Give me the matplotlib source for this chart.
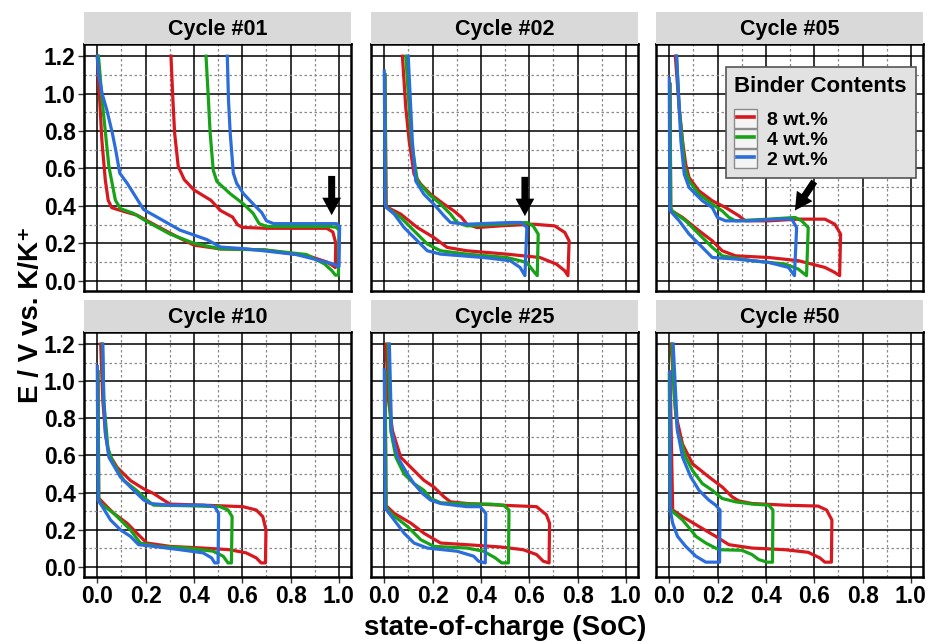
import matplotlib
matplotlib.use("Agg")
import matplotlib.pyplot as plt
from matplotlib.ticker import MultipleLocator
from matplotlib.legend_handler import HandlerLine2D
from matplotlib.patches import Rectangle

plt.rcParams['font.family'] = ['Liberation Sans', 'DejaVu Sans']
plt.rcParams['font.weight'] = 'bold'

# state-of-charge / potential curves
# (discharge from SoC 0 down to the cut-off, then charge drawn back to 1.2 V)
c01_8_soc = [0.0, 0.019, 0.033, 0.045, 0.06, 0.11, 0.165, 0.25, 0.33, 0.40, 0.51, 0.69, 0.88, 0.95, 0.975, 0.985,
             0.987, 0.975, 0.95, 0.70, 0.60, 0.58, 0.56, 0.51, 0.47, 0.40, 0.36, 0.335, 0.32, 0.313, 0.305]
c01_8_E = [1.2, 0.75, 0.54, 0.43, 0.39, 0.37, 0.35, 0.29, 0.235, 0.19, 0.17, 0.165, 0.13, 0.10, 0.08, 0.07,
           0.20, 0.26, 0.28, 0.28, 0.285, 0.30, 0.34, 0.375, 0.43, 0.485, 0.54, 0.61, 0.79, 0.965, 1.2]
c01_4_soc = [0.005, 0.02, 0.048, 0.075, 0.096, 0.15, 0.2, 0.30, 0.40, 0.51, 0.69, 0.865, 0.94, 0.97, 0.985, 0.998,
             1.0, 0.99, 0.96, 0.70, 0.67, 0.645, 0.605, 0.55, 0.495, 0.48, 0.467, 0.46, 0.45]
c01_4_E = [1.2, 0.965, 0.61, 0.43, 0.385, 0.36, 0.32, 0.25, 0.20, 0.17, 0.165, 0.14, 0.09, 0.055, 0.03, 0.03,
           0.27, 0.285, 0.29, 0.29, 0.305, 0.36, 0.41, 0.465, 0.53, 0.59, 0.79, 0.965, 1.2]
c01_2_soc = [0.0, 0.005, 0.02, 0.04, 0.062, 0.076, 0.093, 0.124, 0.158, 0.192, 0.247, 0.343, 0.453, 0.51, 0.618,
             0.824, 0.975, 1.0, 1.003, 0.99, 0.96, 0.73, 0.70, 0.68, 0.645, 0.605, 0.577, 0.563, 0.55, 0.543, 0.538]
c01_2_E = [1.2, 1.11, 1.0, 0.91, 0.79, 0.70, 0.575, 0.52, 0.45, 0.38, 0.34, 0.27, 0.22, 0.18, 0.17,
           0.14, 0.09, 0.075, 0.29, 0.305, 0.305, 0.305, 0.32, 0.365, 0.41, 0.465, 0.52, 0.575, 0.79, 0.965, 1.2]

c02_8_soc = [0.003, 0.008, 0.016, 0.068, 0.137, 0.205, 0.26, 0.342, 0.507, 0.644, 0.712, 0.747, 0.76, 0.765, 0.747,
             0.705, 0.616, 0.479, 0.384, 0.342, 0.32, 0.288, 0.247, 0.192, 0.151, 0.123, 0.103, 0.089, 0.075]
c02_8_E = [1.1, 0.40, 0.39, 0.356, 0.284, 0.231, 0.178, 0.16, 0.142, 0.124, 0.089, 0.053, 0.027, 0.213, 0.258,
           0.293, 0.302, 0.293, 0.284, 0.302, 0.338, 0.373, 0.409, 0.462, 0.516, 0.569, 0.747, 0.924, 1.2]
c02_4_soc = [0.003, 0.006, 0.011, 0.068, 0.123, 0.178, 0.233, 0.342, 0.507, 0.589, 0.616, 0.633, 0.637, 0.616,
             0.589, 0.479, 0.342, 0.301, 0.274, 0.233, 0.185, 0.137, 0.112, 0.089]
c02_4_E = [1.1, 0.40, 0.39, 0.338, 0.267, 0.196, 0.16, 0.142, 0.124, 0.098, 0.053, 0.027, 0.249, 0.293,
           0.311, 0.302, 0.293, 0.311, 0.356, 0.409, 0.462, 0.533, 0.747, 1.2]
c02_2_soc = [0.0, 0.004, 0.01, 0.041, 0.082, 0.137, 0.178, 0.233, 0.411, 0.521, 0.562, 0.582, 0.59, 0.568, 0.521,
             0.342, 0.274, 0.247, 0.205, 0.164, 0.13, 0.116, 0.099]
c02_2_E = [1.12, 0.40, 0.39, 0.356, 0.284, 0.213, 0.16, 0.142, 0.124, 0.107, 0.071, 0.027, 0.284, 0.311, 0.311,
           0.302, 0.311, 0.347, 0.409, 0.462, 0.533, 0.747, 1.2]

c05_8_soc = [0.003, 0.006, 0.011, 0.055, 0.123, 0.178, 0.219, 0.274, 0.411, 0.534, 0.644, 0.685, 0.705, 0.709,
             0.685, 0.644, 0.534, 0.411, 0.315, 0.288, 0.233, 0.178, 0.123, 0.082, 0.068, 0.055, 0.041, 0.025]
c05_8_E = [1.05, 0.39, 0.373, 0.338, 0.267, 0.213, 0.16, 0.133, 0.124, 0.107, 0.071, 0.044, 0.027, 0.249,
           0.302, 0.329, 0.329, 0.32, 0.32, 0.347, 0.391, 0.427, 0.48, 0.551, 0.622, 0.747, 0.924, 1.2]
c05_4_soc = [0.003, 0.006, 0.011, 0.068, 0.123, 0.178, 0.219, 0.342, 0.479, 0.534, 0.568, 0.575, 0.548, 0.521,
             0.411, 0.274, 0.247, 0.219, 0.178, 0.123, 0.082, 0.064, 0.041, 0.03]
c05_4_E = [1.05, 0.39, 0.373, 0.32, 0.249, 0.178, 0.133, 0.107, 0.089, 0.062, 0.027, 0.284, 0.32, 0.338,
           0.329, 0.32, 0.338, 0.373, 0.409, 0.462, 0.533, 0.604, 0.924, 1.2]
c05_2_soc = [0.0, 0.002, 0.004, 0.041, 0.082, 0.137, 0.178, 0.274, 0.411, 0.493, 0.518, 0.527, 0.507, 0.452,
             0.315, 0.233, 0.199, 0.178, 0.137, 0.082, 0.062, 0.048, 0.03]
c05_2_E = [1.08, 0.39, 0.373, 0.32, 0.249, 0.178, 0.124, 0.116, 0.098, 0.071, 0.027, 0.284, 0.329, 0.329,
           0.32, 0.32, 0.338, 0.391, 0.427, 0.498, 0.569, 0.747, 1.2]

c10_8_soc = [0.003, 0.006, 0.027, 0.068, 0.123, 0.164, 0.205, 0.301, 0.438, 0.548, 0.616, 0.658, 0.678, 0.696,
             0.698, 0.685, 0.658, 0.603, 0.438, 0.301, 0.274, 0.233, 0.192, 0.137, 0.082, 0.048, 0.034, 0.023, 0.014]
c10_8_E = [1.05, 0.37, 0.341, 0.288, 0.235, 0.181, 0.128, 0.11, 0.101, 0.092, 0.075, 0.048, 0.021, 0.021,
           0.199, 0.27, 0.306, 0.324, 0.332, 0.338, 0.36, 0.395, 0.42, 0.465, 0.536, 0.608, 0.715, 0.892, 1.2]
c10_4_soc = [0.003, 0.006, 0.014, 0.068, 0.137, 0.178, 0.247, 0.37, 0.479, 0.521, 0.541, 0.555, 0.558, 0.541,
             0.507, 0.37, 0.233, 0.205, 0.164, 0.11, 0.062, 0.044, 0.027, 0.021]
c10_4_E = [1.05, 0.37, 0.341, 0.288, 0.199, 0.128, 0.11, 0.101, 0.084, 0.057, 0.021, 0.021, 0.27, 0.306,
           0.324, 0.329, 0.332, 0.36, 0.41, 0.465, 0.57, 0.64, 0.89, 1.2]
c10_2_soc = [0.0, 0.003, 0.021, 0.055, 0.096, 0.137, 0.171, 0.233, 0.342, 0.438, 0.473, 0.486, 0.5, 0.502, 0.486,
             0.438, 0.301, 0.219, 0.192, 0.164, 0.137, 0.096, 0.048, 0.034, 0.027, 0.023]
c10_2_E = [1.08, 0.36, 0.324, 0.252, 0.199, 0.164, 0.119, 0.11, 0.092, 0.075, 0.048, 0.021, 0.021, 0.288, 0.324,
           0.332, 0.332, 0.341, 0.36, 0.395, 0.43, 0.483, 0.59, 0.715, 0.892, 1.2]

c25_8_soc = [0.003, 0.007, 0.041, 0.11, 0.164, 0.233, 0.342, 0.479, 0.575, 0.63, 0.658, 0.682, 0.684, 0.671, 0.63,
             0.479, 0.342, 0.274, 0.247, 0.205, 0.164, 0.123, 0.068, 0.034, 0.016, 0.007]
c25_8_E = [1.05, 0.33, 0.288, 0.235, 0.181, 0.128, 0.119, 0.107, 0.092, 0.066, 0.03, 0.021, 0.235, 0.28, 0.324,
           0.332, 0.341, 0.35, 0.377, 0.43, 0.466, 0.519, 0.59, 0.732, 0.91, 1.2]
c25_4_soc = [0.003, 0.008, 0.027, 0.096, 0.151, 0.205, 0.342, 0.411, 0.459, 0.486, 0.514, 0.516, 0.493, 0.438,
             0.342, 0.233, 0.192, 0.164, 0.123, 0.082, 0.048, 0.027, 0.016]
c25_4_E = [1.05, 0.32, 0.288, 0.217, 0.146, 0.11, 0.101, 0.084, 0.048, 0.021, 0.021, 0.306, 0.332, 0.338,
           0.338, 0.345, 0.368, 0.412, 0.448, 0.5, 0.59, 0.732, 1.2]
c25_2_soc = [0.0, 0.004, 0.041, 0.082, 0.123, 0.178, 0.301, 0.37, 0.39, 0.418, 0.42, 0.397, 0.342, 0.233, 0.192,
             0.158, 0.123, 0.096, 0.055, 0.03, 0.021]
c25_2_E = [1.06, 0.315, 0.252, 0.181, 0.128, 0.101, 0.084, 0.057, 0.03, 0.021, 0.288, 0.324, 0.324, 0.341, 0.359,
           0.395, 0.448, 0.5, 0.59, 0.732, 1.2]

c50_8_soc = [0.003, 0.014, 0.055, 0.123, 0.192, 0.247, 0.342, 0.479, 0.575, 0.623, 0.644, 0.671, 0.673, 0.651,
             0.616, 0.479, 0.342, 0.288, 0.26, 0.219, 0.164, 0.096, 0.055, 0.027, 0.007]
c50_8_E = [1.05, 0.306, 0.27, 0.217, 0.164, 0.119, 0.101, 0.092, 0.078, 0.048, 0.025, 0.025, 0.252, 0.306,
           0.327, 0.332, 0.341, 0.355, 0.377, 0.43, 0.484, 0.555, 0.66, 0.82, 1.2]
c50_4_soc = [0.0, 0.003, 0.014, 0.055, 0.089, 0.11, 0.151, 0.205, 0.301, 0.342, 0.37, 0.404, 0.427, 0.429, 0.411,
             0.342, 0.274, 0.219, 0.178, 0.137, 0.096, 0.068, 0.034, 0.021, 0.011]
c50_4_E = [1.04, 0.32, 0.297, 0.252, 0.199, 0.164, 0.128, 0.092, 0.089, 0.066, 0.039, 0.025, 0.025, 0.306, 0.332,
           0.338, 0.35, 0.368, 0.412, 0.448, 0.519, 0.59, 0.732, 0.91, 1.2]
c50_2_soc = [0.003, 0.004, 0.014, 0.034, 0.068, 0.11, 0.151, 0.208, 0.21, 0.192, 0.164, 0.123, 0.089, 0.055,
             0.034, 0.016]
c50_2_E = [1.05, 0.306, 0.235, 0.164, 0.11, 0.057, 0.025, 0.025, 0.306, 0.332, 0.359, 0.412, 0.484, 0.59,
           0.732, 1.2]

cycles = ['Cycle #01', 'Cycle #02', 'Cycle #05', 'Cycle #10', 'Cycle #25', 'Cycle #50']
binders = ['8 wt.%', '4 wt.%', '2 wt.%']
colors = ['#d7191f', '#17a317', '#2a6ddb']
curves = [
    [(c01_8_soc, c01_8_E), (c01_4_soc, c01_4_E), (c01_2_soc, c01_2_E)],
    [(c02_8_soc, c02_8_E), (c02_4_soc, c02_4_E), (c02_2_soc, c02_2_E)],
    [(c05_8_soc, c05_8_E), (c05_4_soc, c05_4_E), (c05_2_soc, c05_2_E)],
    [(c10_8_soc, c10_8_E), (c10_4_soc, c10_4_E), (c10_2_soc, c10_2_E)],
    [(c25_8_soc, c25_8_E), (c25_4_soc, c25_4_E), (c25_2_soc, c25_2_E)],
    [(c50_8_soc, c50_8_E), (c50_4_soc, c50_4_E), (c50_2_soc, c50_2_E)],
]
# arrows: panel index, tail, tip (data units)
arrows = [(0, (0.97, 0.56), (0.97, 0.35)),
          (1, (0.582, 0.555), (0.582, 0.345)),
          (2, (0.60, 0.53), (0.52, 0.375))]


class BoxedLine(HandlerLine2D):
    # legend key drawn inside a small grey box, like ggplot keys
    def create_artists(self, legend, orig_handle, xdescent, ydescent, width, height, fontsize, trans):
        box = Rectangle((-xdescent, -ydescent), width, height, facecolor='#f4f4f4',
                        edgecolor='#8c8c8c', lw=1.0, transform=trans)
        m = width * 0.14
        arts = super().create_artists(legend, orig_handle, xdescent - m, ydescent,
                                      width - 2 * m, height, fontsize, trans)
        for a in arts:
            a.set_linewidth(2.6)
        return [box] + arts


W, H = 928, 642
fig = plt.figure(figsize=(W / 100, H / 100), dpi=100)
lefts = [84, 371, 656]
tops = [44, 332]
heights = [247, 245]
pw = 267
strip_h = 32

axes = []
for i, name in enumerate(cycles):
    r, c = divmod(i, 3)
    l = lefts[c] / W
    b = 1 - (tops[r] + heights[r]) / H
    ax = fig.add_axes([l, b, pw / W, heights[r] / H])
    axes.append(ax)

    st = fig.add_axes([l, 1 - tops[r] / H, pw / W, strip_h / H])
    st.set_facecolor('#d9d9d9')
    st.set_xticks([])
    st.set_yticks([])
    for s in st.spines.values():
        s.set_visible(False)
    st.text(0.5, 0.45, name, ha='center', va='center', fontsize=15.5, fontweight='bold')

    for (x, y), col, lab in zip(curves[i], colors, binders):
        ax.plot(x, y, color=col, lw=2.3, label=lab, solid_joinstyle='round')

    ax.set_xlim(-0.055, 1.05)
    ax.set_ylim(-0.055, 1.265)
    ax.xaxis.set_major_locator(MultipleLocator(0.2))
    ax.xaxis.set_minor_locator(MultipleLocator(0.1))
    ax.yaxis.set_major_locator(MultipleLocator(0.2))
    ax.yaxis.set_minor_locator(MultipleLocator(0.1))
    ax.grid(which='major', color='black', lw=1.1, ls='-')
    ax.grid(which='minor', color='#8a8a8a', lw=0.9, ls=(0, (2, 2)))
    ax.set_axisbelow(True)
    ax.xaxis.set_major_formatter(plt.FormatStrFormatter('%.1f'))
    ax.yaxis.set_major_formatter(plt.FormatStrFormatter('%.1f'))
    ax.tick_params(which='minor', length=0)
    ax.tick_params(which='major', direction='out', length=4, width=1, color='#333333',
                   labelsize=16.5, pad=2,
                   left=(c == 0), labelleft=(c == 0),
                   bottom=(r == 1), labelbottom=(r == 1))
    for lbl in ax.get_xticklabels() + ax.get_yticklabels():
        lbl.set_fontweight('bold')
    for s in ax.spines.values():
        s.set_linewidth(1.8)
        s.set_color('black')

for idx, tail, tip in arrows:
    axes[idx].annotate('', xy=tip, xytext=tail,
                       arrowprops=dict(arrowstyle='simple,head_length=0.7,head_width=0.75,tail_width=0.28',
                                       facecolor='black', edgecolor='none', shrinkA=0, shrinkB=0,
                                       mutation_scale=18))

handles, labels = axes[2].get_legend_handles_labels()
leg = axes[2].legend(handles, labels, title='Binder Contents', loc='upper right',
                     bbox_to_anchor=(0.972, 0.907), borderaxespad=0,
                     fontsize=14, title_fontsize=16, frameon=True, fancybox=False,
                     facecolor='#e2e2e2', edgecolor='#555555', framealpha=1,
                     handlelength=1.15, handleheight=1.1, handletextpad=0.55,
                     borderpad=0.45, labelspacing=0.0,
                     handler_map={h: BoxedLine() for h in handles})
leg.get_frame().set_linewidth(1.2)
leg.get_title().set_fontweight('bold')
leg._legend_box.align = 'left'
leg._legend_box.sep = 9
for t in leg.get_texts():
    t.set_fontweight('bold')

fig.text(0.033, 0.51, 'E / V vs. K/K\u207a', rotation=90, ha='center', va='center',
         fontsize=20, fontweight='bold')
fig.text(0.544, 0.022, 'state-of-charge (SoC)', ha='center', va='center',
         fontsize=20, fontweight='bold')

fig.savefig('out.png', dpi=100)
